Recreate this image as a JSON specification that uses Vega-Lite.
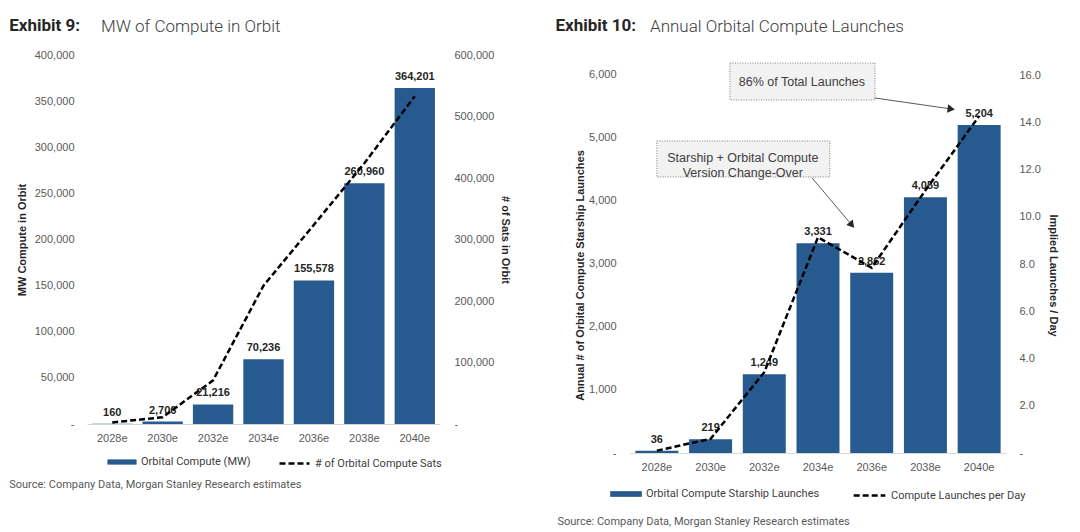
{
  "$schema": "https://vega.github.io/schema/vega-lite/v6.json",
  "description": "MW of compute in orbit and annual orbital compute launches",
  "background": "white",
  "padding": {"left": 9, "top": 17, "right": 4, "bottom": 0},
  "spacing": 44,
  "config": {
    "view": {"stroke": null},
    "font": "Roboto",
    "axis": {
      "labelFont": "Liberation Sans",
      "labelFontSize": 11,
      "labelColor": "#595959",
      "titleFont": "Liberation Sans",
      "titleFontSize": 11,
      "titleFontWeight": "bold",
      "titleColor": "#262626",
      "grid": false,
      "ticks": false,
      "domain": false
    },
    "legend": {"labelFont": "Roboto", "labelFontSize": 11, "labelColor": "#404040", "labelOffset": 4, "labelLimit": 300},
    "title": {"font": "Roboto"}
  },
  "datasets": {
    "orbit": [
      {"year": "2028e", "mw": 160, "sats": 2500},
      {"year": "2030e", "mw": 2706, "sats": 11000},
      {"year": "2032e", "mw": 21216, "sats": 71000},
      {"year": "2034e", "mw": 70236, "sats": 225000},
      {"year": "2036e", "mw": 155578, "sats": 324000},
      {"year": "2038e", "mw": 260960, "sats": 424000},
      {"year": "2040e", "mw": 364201, "sats": 533000}
    ],
    "launches": [
      {"year": "2028e", "launches": 36, "perday": 0.10},
      {"year": "2030e", "launches": 219, "perday": 0.60},
      {"year": "2032e", "launches": 1249, "perday": 3.42},
      {"year": "2034e", "launches": 3331, "perday": 9.13},
      {"year": "2036e", "launches": 2862, "perday": 7.84},
      {"year": "2038e", "launches": 4059, "perday": 11.12},
      {"year": "2040e", "launches": 5204, "perday": 14.26}
    ],
    "boxes": [
      {"label": "86% of Total Launches", "x1": 1.86, "x2": 4.56, "y1": 6190, "y2": 5603, "tx": 3.2, "ty": 5889},
      {"label": "Starship + Orbital Compute\nVersion Change-Over", "x1": 0.5, "x2": 3.72, "y1": 4952, "y2": 4381, "tx": 2.1, "ty": 4675}
    ],
    "arrows": [
      {"x1": 4.56, "y1": 5635, "x2": 5.98, "y2": 5460, "angle": 8},
      {"x1": 3.39, "y1": 4365, "x2": 4.13, "y2": 3619, "angle": 50}
    ]
  },
  "hconcat": [
    {
      "title": {"text": "Exhibit 9:", "anchor": "start", "frame": "bounds", "fontSize": 17, "fontWeight": "bold", "color": "#262626", "offset": -17, "dx": 0},
      "vconcat": [
        {
          "title": {"text": "Source: Company Data, Morgan Stanley Research estimates", "orient": "bottom", "anchor": "start", "frame": "bounds", "fontSize": 11, "fontWeight": "normal", "color": "#595959", "offset": 36, "dx": -7},
          "vconcat": [
            {
              "title": {"text": "MW of Compute in Orbit", "anchor": "start", "frame": "group", "fontSize": 17, "fontWeight": 300, "color": "#404040", "offset": 13, "dx": 14},
              "width": 353,
              "height": 369,
              "data": {"name": "orbit"},
              "encoding": {
                "x": {
                  "field": "year", "type": "nominal", "sort": null,
                  "scale": {"paddingInner": 0.2},
                  "axis": {"title": null, "labelAngle": 0, "labelPadding": 8, "domain": true, "domainColor": "#d9d9d9"}
                }
              },
              "layer": [
                {
                  "layer": [
                    {
                      "mark": {"type": "bar"},
                      "encoding": {
                        "y": {
                          "field": "mw", "type": "quantitative",
                          "scale": {"domain": [0, 400000], "nice": false},
                          "axis": {"title": "MW Compute in Orbit", "values": [0, 50000, 100000, 150000, 200000, 250000, 300000, 350000, 400000], "format": ",d", "labelExpr": "datum.value == 0 ? '-' : datum.label", "labelPadding": 13, "titlePadding": 7}
                        },
                        "fill": {
                          "datum": "Orbital Compute (MW)", "type": "nominal",
                          "scale": {"range": ["#275a8e"]},
                          "legend": {"title": null, "orient": "none", "legendX": 20, "legendY": 392, "symbolType": "M-1,-0.18H1V0.18H-1Z", "symbolSize": 850, "symbolStrokeWidth": 0}
                        }
                      }
                    },
                    {
                      "mark": {"type": "text", "baseline": "bottom", "dy": -6, "font": "Liberation Sans", "fontSize": 11, "fontWeight": "bold", "color": "#262626"},
                      "encoding": {
                        "y": {"field": "mw", "type": "quantitative", "scale": {"domain": [0, 400000], "nice": false}},
                        "text": {"field": "mw", "type": "quantitative", "format": ",d"}
                      }
                    }
                  ]
                },
                {
                  "mark": {"type": "line", "color": "black", "strokeWidth": 2.5},
                  "encoding": {
                    "y": {
                      "field": "sats", "type": "quantitative",
                      "scale": {"domain": [0, 600000], "nice": false},
                      "axis": {"orient": "right", "title": "# of Sats in Orbit", "values": [0, 100000, 200000, 300000, 400000, 500000, 600000], "format": ",d", "labelExpr": "datum.value == 0 ? '-' : datum.label", "labelPadding": 14, "titlePadding": 6}
                    },
                    "strokeDash": {
                      "datum": "# of Orbital Compute Sats", "type": "nominal",
                      "scale": {"range": [[6, 3]]},
                      "legend": {"title": null, "orient": "none", "legendX": 191, "legendY": 392, "symbolType": "stroke", "symbolSize": 900, "symbolStrokeColor": "black", "symbolStrokeWidth": 2.5}
                    }
                  }
                }
              ],
              "resolve": {"scale": {"y": "independent"}}
            }
          ]
        }
      ]
    },
    {
      "title": {"text": "Exhibit 10:", "anchor": "start", "frame": "bounds", "fontSize": 17, "fontWeight": "bold", "color": "#262626", "offset": -17, "dx": -2},
      "vconcat": [
        {
          "title": {"text": "Source: Company Data, Morgan Stanley Research estimates", "orient": "bottom", "anchor": "start", "frame": "bounds", "fontSize": 11, "fontWeight": "normal", "color": "#595959", "offset": 44, "dx": -17},
          "vconcat": [
            {
              "title": {"text": "Annual Orbital Compute Launches", "anchor": "start", "frame": "group", "fontSize": 17, "fontWeight": 300, "color": "#404040", "offset": 19, "dx": 20},
              "width": 376,
              "height": 398,
              "layer": [
                {
                  "data": {"name": "launches"},
                  "encoding": {
                    "x": {
                      "field": "year", "type": "nominal", "sort": null,
                      "scale": {"paddingInner": 0.2},
                      "axis": {"title": null, "labelAngle": 0, "labelPadding": 8, "domain": true, "domainColor": "#d9d9d9"}
                    }
                  },
                  "layer": [
                    {
                      "mark": {"type": "bar"},
                      "encoding": {
                        "y": {
                          "field": "launches", "type": "quantitative",
                          "scale": {"domain": [0, 6317], "nice": false},
                          "axis": {"title": "Annual # of Orbital Compute Starship Launches", "titleY": 220, "values": [0, 1000, 2000, 3000, 4000, 5000, 6000], "format": ",d", "labelExpr": "datum.value == 0 ? '-' : datum.label", "labelPadding": 14, "titlePadding": 3}
                        },
                        "fill": {
                          "datum": "Orbital Compute Starship Launches", "type": "nominal",
                          "scale": {"range": ["#275a8e"]},
                          "legend": {"title": null, "orient": "none", "legendX": -20, "legendY": 423, "symbolType": "M-1,-0.18H1V0.18H-1Z", "symbolSize": 1000, "symbolStrokeWidth": 0}
                        }
                      }
                    },
                    {
                      "mark": {"type": "text", "baseline": "bottom", "dy": -6, "font": "Liberation Sans", "fontSize": 11, "fontWeight": "bold", "color": "#262626"},
                      "encoding": {
                        "y": {"field": "launches", "type": "quantitative", "scale": {"domain": [0, 6317], "nice": false}},
                        "text": {"field": "launches", "type": "quantitative", "format": ",d"}
                      }
                    }
                  ]
                },
                {
                  "data": {"name": "launches"},
                  "mark": {"type": "line", "color": "black", "strokeWidth": 2.5},
                  "encoding": {
                    "x": {"field": "year", "type": "nominal", "sort": null, "axis": null},
                    "y": {
                      "field": "perday", "type": "quantitative",
                      "scale": {"domain": [0, 16.847], "nice": false},
                      "axis": {"orient": "right", "title": "Implied Launches / Day", "titleY": 220, "values": [0, 2, 4, 6, 8, 10, 12, 14, 16], "format": ".1f", "labelExpr": "datum.value == 0 ? '-' : datum.label", "labelPadding": 13, "titlePadding": 7}
                    },
                    "strokeDash": {
                      "datum": "Compute Launches per Day", "type": "nominal",
                      "scale": {"range": [[6, 3]]},
                      "legend": {"title": null, "orient": "none", "legendX": 222, "legendY": 423, "symbolType": "stroke", "symbolSize": 1000, "symbolStrokeColor": "black", "symbolStrokeWidth": 2.5}
                    }
                  }
                },
                {
                  "layer": [
                    {
                      "data": {"name": "boxes"},
                      "mark": {"type": "rect", "fill": "#f2f2f2", "stroke": "#7f7f7f", "strokeWidth": 1, "strokeDash": [1, 1.5]},
                      "encoding": {
                        "x": {"field": "x1", "type": "quantitative", "scale": {"domain": [0, 7], "nice": false, "zero": false}, "axis": null},
                        "x2": {"field": "x2"},
                        "y": {"field": "y1", "type": "quantitative", "scale": {"domain": [0, 6317], "nice": false}, "axis": null},
                        "y2": {"field": "y2"}
                      }
                    },
                    {
                      "data": {"name": "boxes"},
                      "mark": {"type": "text", "align": "center", "baseline": "middle", "lineBreak": "\n", "lineHeight": 15, "font": "Liberation Sans", "fontSize": 12.5, "color": "#404040"},
                      "encoding": {
                        "x": {"field": "tx", "type": "quantitative"},
                        "y": {"field": "ty", "type": "quantitative"},
                        "text": {"field": "label", "type": "nominal"}
                      }
                    },
                    {
                      "data": {"name": "arrows"},
                      "mark": {"type": "rule", "color": "#595959", "strokeWidth": 1},
                      "encoding": {
                        "x": {"field": "x1", "type": "quantitative"},
                        "x2": {"field": "x2"},
                        "y": {"field": "y1", "type": "quantitative"},
                        "y2": {"field": "y2"}
                      }
                    },
                    {
                      "data": {"name": "arrows"},
                      "mark": {"type": "point", "shape": "triangle-right", "filled": true, "color": "#262626", "size": 70, "opacity": 1},
                      "encoding": {
                        "x": {"field": "x2", "type": "quantitative"},
                        "y": {"field": "y2", "type": "quantitative"},
                        "angle": {"field": "angle", "type": "quantitative", "scale": null}
                      }
                    }
                  ]
                }
              ],
              "resolve": {"scale": {"x": "independent", "y": "independent"}}
            }
          ]
        }
      ]
    }
  ],
  "resolve": {
    "scale": {"x": "independent", "y": "independent", "fill": "independent", "strokeDash": "independent"},
    "legend": {"fill": "independent", "strokeDash": "independent"}
  }
}
